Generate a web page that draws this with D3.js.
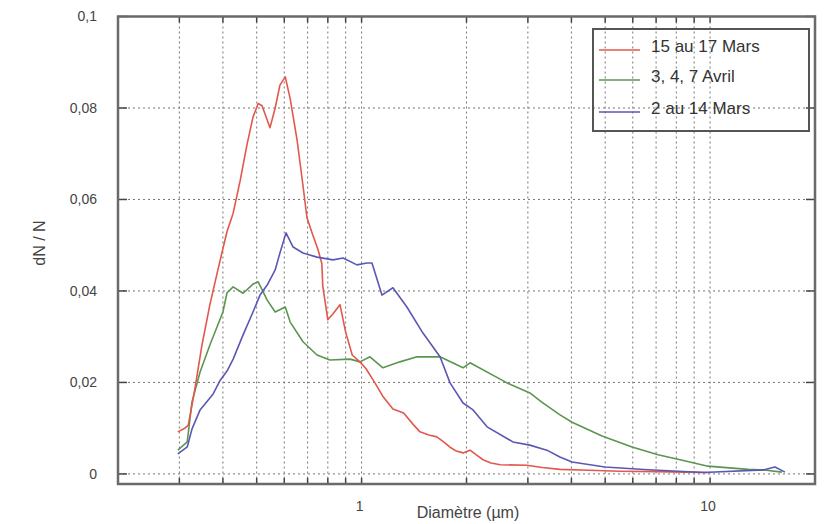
<!DOCTYPE html>
<html>
<head>
<meta charset="utf-8">
<script src="https://cdn.jsdelivr.net/npm/d3@7"></script>
<style>
  html, body { margin: 0; padding: 0; background: #fff; }
  svg { display: block; }
  text { font-family: "Liberation Sans", Arial, sans-serif; }
</style>
</head>
<body>
<svg id="chart" width="835" height="524"></svg>
<script>
// ---- Data (diameter in µm, dN/N) ----
const seriesNames = ["15 au 17 Mars", "3, 4, 7 Avril", "2 au 14 Mars"];

const redD = [0.297,0.311,0.318,0.326,0.333,0.348,0.367,0.388,0.411,0.428,0.448,0.469,0.488,0.505,0.518,0.546,0.565,0.583,0.604,0.624,0.653,0.679,0.697,0.726,0.750,0.769,0.774,0.800,0.828,0.867,0.900,0.940,0.989,1.03,1.09,1.15,1.23,1.32,1.40,1.47,1.56,1.644,1.72,1.79,1.87,1.955,2.047,2.13,2.23,2.35,2.50,2.98,3.3,3.71,4.5,5.5,7.0,8.5,9.9];
const redV = [0.0092,0.0100,0.0106,0.015,0.019,0.028,0.037,0.045,0.053,0.057,0.064,0.072,0.078,0.081,0.0805,0.0757,0.080,0.085,0.0868,0.082,0.073,0.063,0.056,0.052,0.049,0.046,0.041,0.0337,0.035,0.037,0.031,0.026,0.0245,0.023,0.020,0.017,0.0142,0.0133,0.011,0.0092,0.0085,0.0081,0.007,0.0059,0.005,0.0046,0.0052,0.0042,0.0031,0.0024,0.0020,0.0019,0.0014,0.0010,0.0008,0.0006,0.0005,0.0004,0.0003];

const greenD = [0.297,0.316,0.326,0.344,0.367,0.400,0.411,0.428,0.457,0.488,0.505,0.536,0.565,0.604,0.624,0.679,0.745,0.811,0.927,0.989,1.057,1.151,1.288,1.442,1.679,1.955,2.047,2.614,3.04,3.289,3.71,4.017,4.898,5.97,7.09,8.32,9.86,12.85,14.5,16.07];
const greenV = [0.0052,0.007,0.0157,0.0223,0.0282,0.0354,0.0396,0.0409,0.0395,0.0415,0.042,0.038,0.0354,0.0365,0.0332,0.0289,0.026,0.0249,0.0251,0.0245,0.0256,0.0232,0.0245,0.0256,0.0256,0.0232,0.0243,0.0199,0.0177,0.0157,0.0129,0.0113,0.0083,0.0059,0.0042,0.0030,0.0017,0.0010,0.0008,0.0004];

const blueD = [0.297,0.316,0.326,0.344,0.375,0.393,0.411,0.428,0.457,0.488,0.511,0.536,0.565,0.583,0.607,0.636,0.679,0.745,0.828,0.885,0.970,1.036,1.071,1.144,1.230,1.349,1.500,1.679,1.794,1.955,2.089,2.291,2.718,3.04,3.401,3.707,4.017,4.989,6.637,9.6,14.3,15.35,16.4];
const blueV = [0.0044,0.0059,0.0098,0.0140,0.0175,0.0205,0.0225,0.0251,0.0304,0.0354,0.0391,0.0413,0.0446,0.0483,0.0527,0.0496,0.0483,0.0474,0.0468,0.0472,0.0457,0.0461,0.0461,0.0391,0.0407,0.0365,0.0308,0.0256,0.0199,0.0155,0.014,0.0103,0.007,0.0063,0.0052,0.0037,0.0026,0.0015,0.0009,0.0003,0.0009,0.0015,0.0004];

const yTicks = [0, 0.02, 0.04, 0.06, 0.08, 0.1];
const xGrid = [0.3,0.4,0.5,0.6,0.7,0.8,0.9,1,2,3,4,5,6,7,8,9,10];
const xLabels = [1, 10];
const xTitle = "Diamètre (µm)";
const yTitle = "dN / N";

// ---- Layout ----
const svg = d3.select("#chart");
const L = 118, R = 815, T = 16.5, B = 484;
const x = d3.scaleLog().domain([0.2, 20]).range([L, R]);
const y = d3.scaleLinear().domain([-0.0022, 0.1]).range([B, T]);
const fr = d3.formatLocale({decimal: ",", thousands: " ", grouping: [3], currency: ["", "€"]});
const yFmt = fr.format(".2~f");

const colors = ["#e3574c", "#5c9550", "#5a58b4"];

// grid
const grid = svg.append("g").attr("stroke", "#555").attr("stroke-width", 1)
  .attr("stroke-dasharray", "2,3").attr("opacity", 0.8);
grid.selectAll("line.v").data(xGrid).enter().append("line")
  .attr("x1", d => x(d)).attr("x2", d => x(d)).attr("y1", T).attr("y2", B);
grid.selectAll("line.h").data(yTicks.slice(1, 5).concat([0])).enter().append("line")
  .attr("x1", L).attr("x2", R).attr("y1", d => y(d)).attr("y2", d => y(d));

// ticks inside frame
const ticks = svg.append("g").attr("stroke", "#444").attr("stroke-width", 1.5);
ticks.selectAll("line.yl").data(yTicks).enter().append("line")
  .attr("x1", L).attr("x2", L + 9).attr("y1", d => y(d)).attr("y2", d => y(d));
ticks.selectAll("line.yr").data(yTicks).enter().append("line")
  .attr("x1", R - 9).attr("x2", R).attr("y1", d => y(d)).attr("y2", d => y(d));
ticks.selectAll("line.xb").data(xGrid).enter().append("line")
  .attr("x1", d => x(d)).attr("x2", d => x(d)).attr("y1", B - 6).attr("y2", B);
ticks.selectAll("line.xt").data(xGrid).enter().append("line")
  .attr("x1", d => x(d)).attr("x2", d => x(d)).attr("y1", T).attr("y2", T + 6);

// series lines
const line = d3.line().x(d => x(d[0])).y(d => y(d[1]));
const series = [
  d3.zip(redD, redV),
  d3.zip(greenD, greenV),
  d3.zip(blueD, blueV)
];
[1, 0, 2].forEach(i => {
  svg.append("path").datum(series[i])
    .attr("fill", "none").attr("stroke", colors[i]).attr("stroke-width", 1.6)
    .attr("stroke-linejoin", "round").attr("d", line);
});

// frame
svg.append("rect").attr("x", L).attr("y", T).attr("width", R - L).attr("height", B - T)
  .attr("fill", "none").attr("stroke", "#6a6a6a").attr("stroke-width", 2.5);

// y labels
svg.append("g").selectAll("text").data(yTicks).enter().append("text")
  .attr("x", 97).attr("y", d => y(d)).attr("dy", "0.35em")
  .attr("text-anchor", "end").attr("font-size", 14).attr("fill", "#444")
  .text(d => yFmt(d));

// x labels
svg.append("g").selectAll("text").data(xLabels).enter().append("text")
  .attr("x", d => x(d) - 2).attr("y", 511)
  .attr("text-anchor", "middle").attr("font-size", 14).attr("fill", "#444")
  .text(d => d);

svg.append("text").attr("x", 468).attr("y", 518).attr("text-anchor", "middle")
  .attr("font-size", 16).attr("fill", "#444").text(xTitle);

svg.append("text").attr("transform", "translate(45,243) rotate(-90)")
  .attr("text-anchor", "middle").attr("font-size", 16).attr("fill", "#444").text(yTitle);

// legend
const lg = svg.append("g");
lg.append("rect").attr("x", 593).attr("y", 29).attr("width", 216).attr("height", 102)
  .attr("fill", "none").attr("stroke", "#555").attr("stroke-width", 2);
const ly = [50, 80, 112];
seriesNames.forEach((n, i) => {
  lg.append("line").attr("x1", 599).attr("x2", 640).attr("y1", ly[i]).attr("y2", ly[i])
    .attr("stroke", colors[i]).attr("stroke-width", 1.6);
  lg.append("text").attr("x", 651).attr("y", ly[i] - 4).attr("dy", "0.35em")
    .attr("font-size", 17).attr("fill", "#333").text(n);
});
</script>
</body>
</html>
